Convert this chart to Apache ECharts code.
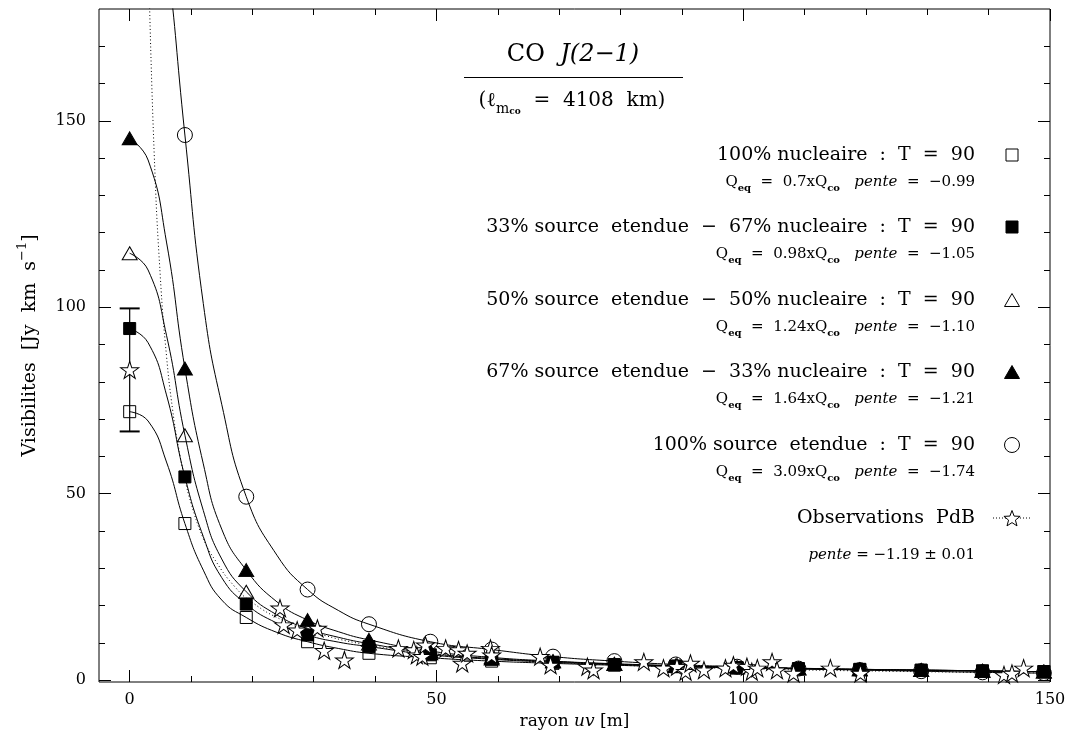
<!DOCTYPE html>
<html>
<head>
<meta charset="utf-8">
<script src="https://cdn.jsdelivr.net/npm/echarts@6/dist/echarts.min.js"></script>
<style>
  html, body { margin: 0; padding: 0; background: #fff; }
  #chart { width: 1074px; height: 735px; }
</style>
</head>
<body>
<div id="chart"></div>
<script>
// positions of the model points on the uv radius (m)
const modelX = [0, 9, 19, 29, 39, 49, 59, 69, 79, 89, 99, 109, 119, 129, 139, 149];
const sqOpen    = [72.0, 42.0, 16.8, 10.3, 7.2, 6.0, 5.1, 4.5, 4.0, 3.6, 3.3, 3.0, 2.8, 2.6, 2.4, 2.3];
const sqFilled  = [94.3, 54.5, 20.4, 12.1, 9.0, 6.8, 5.6, 4.8, 4.2, 3.8, 3.4, 3.1, 2.9, 2.7, 2.5, 2.3];
const triOpen   = [114.5, 65.7, 23.7, 13.8, 9.8, 7.2, 5.8, 5.0, 4.3, 3.8, 3.4, 3.1, 2.9, 2.7, 2.5, 2.3];
const triFilled = [145.3, 83.6, 29.5, 16.1, 10.8, 7.8, 6.1, 5.1, 4.4, 3.9, 3.5, 3.2, 2.9, 2.7, 2.5, 2.3];
const circOpen  = [240, 146.2, 49.2, 24.3, 15.0, 10.3, 8.2, 6.3, 5.1, 4.2, 3.6, 3.1, 2.7, 2.4, 2.1, 1.9];

// model curves
const curveX = [0, 3, 6, 9, 12, 15, 19, 24, 29, 34, 39, 49, 59, 69, 79, 89, 99, 109, 119, 129, 139, 149, 150];
const sqOpenCurve    = [72.0, 69.5, 58.5, 42.0, 29.5, 21.5, 16.8, 12.8, 10.3, 8.5, 7.2, 6.0, 5.1, 4.5, 4.0, 3.6, 3.3, 3.0, 2.8, 2.6, 2.4, 2.3, 2.3];
const sqFilledCurve  = [94.3, 90.5, 76.5, 54.5, 38.5, 27.5, 20.4, 15.3, 12.1, 10.2, 9.0, 6.8, 5.6, 4.8, 4.2, 3.8, 3.4, 3.1, 2.9, 2.7, 2.5, 2.3, 2.3];
const triOpenCurve   = [114.5, 110, 92.5, 65.7, 45.5, 32.5, 23.7, 17.5, 13.8, 11.5, 9.8, 7.2, 5.8, 5.0, 4.3, 3.8, 3.4, 3.1, 2.9, 2.7, 2.5, 2.3, 2.3];
const triFilledCurve = [145.3, 139.5, 117.5, 83.6, 58.0, 40.5, 29.5, 21.0, 16.1, 13.0, 10.8, 7.8, 6.1, 5.1, 4.4, 3.9, 3.5, 3.2, 2.9, 2.7, 2.5, 2.3, 2.3];
const circCurve      = [240, 228, 195, 146.2, 101, 74, 49.2, 33.5, 24.3, 18.7, 15.0, 10.3, 8.2, 6.3, 5.1, 4.2, 3.6, 3.1, 2.7, 2.4, 2.1, 1.9, 1.9];

// dotted power-law fit of the observations
const fitX = [3.2, 4, 5, 6, 7, 8, 9, 10, 12, 14, 17, 20, 25, 30, 40, 50, 60, 80, 100, 125, 150];
const fitY = [184, 141, 108, 87, 72.5, 62, 54, 47.5, 38, 32, 25.3, 20.8, 16, 12.8, 9.1, 7.0, 5.6, 4.0, 3.06, 2.35, 1.9];

// Plateau de Bure observations (stars)
const obsX = [0, 24.5, 25.1, 27.3, 30.6, 31.7, 35.0, 43.8, 46.3, 46.8, 47.7, 48.2, 51.5, 53.6, 54.2, 55.0, 58.8, 59.0,
  66.9, 68.6, 74.6, 75.6, 83.8, 87.0, 89.2, 90.6, 91.4, 93.6, 97.1, 98.4, 100.6, 101.4, 102.3, 104.7, 105.5, 108.2,
  114.2, 119.1, 142.5, 143.8, 145.7];
const obsY = [83.2, 19.3, 14.8, 13.4, 13.9, 7.9, 5.4, 8.5, 8.1, 6.7, 6.3, 9.4, 8.5, 8.1, 4.5, 7.2, 8.5, 6.7,
  6.3, 4.0, 3.6, 2.7, 4.9, 3.2, 3.6, 2.3, 4.5, 2.7, 3.2, 4.0, 3.6, 2.3, 3.2, 4.9, 2.7, 1.8,
  3.2, 1.8, 1.4, 1.8, 3.2];
const errX = [0];
const errLow = [66.7];
const errHigh = [99.7];

const xMajor = [0, 50, 100, 150];
const xMinor = [10, 20, 30, 40, 60, 70, 80, 90, 110, 120, 130, 140];
const yMajor = [0, 50, 100, 150];
const yMinor = [10, 20, 30, 40, 60, 70, 80, 90, 110, 120, 130, 140, 160, 170];

const legendMain = [
  '100% nucleaire  :  T  =  90',
  '33% source  etendue  −  67% nucleaire  :  T  =  90',
  '50% source  etendue  −  50% nucleaire  :  T  =  90',
  '67% source  etendue  −  33% nucleaire  :  T  =  90',
  '100% source  etendue  :  T  =  90',
  'Observations  PdB'
];
const legendSub = [
  'Q{s|eq}  =  0.7xQ{s|co}   {i|pente}  =  −0.99',
  'Q{s|eq}  =  0.98xQ{s|co}   {i|pente}  =  −1.05',
  'Q{s|eq}  =  1.24xQ{s|co}   {i|pente}  =  −1.10',
  'Q{s|eq}  =  1.64xQ{s|co}   {i|pente}  =  −1.21',
  'Q{s|eq}  =  3.09xQ{s|co}   {i|pente}  =  −1.74',
  '{i|pente} = −1.19 ± 0.01'
];

const FONT = 'DejaVu Serif';
const STAR = 'path://M50,2 L61,36 L97,36 L68,57 L79,92 L50,70 L21,92 L32,57 L3,36 L39,36 Z';

const chart = echarts.init(document.getElementById('chart'));

function pairs(xs, ys) { return xs.map((x, i) => [x, ys[i]]); }

function curve(vals) {
  return {
    type: 'line', data: pairs(curveX, vals), smooth: 0.5,
    symbol: 'none', clip: true, silent: true, z: 2,
    lineStyle: { color: '#000', width: 1 }
  };
}

function marks(vals, symbol, size, filled) {
  return {
    type: 'scatter', data: pairs(modelX, vals), symbol: symbol, symbolSize: size,
    clip: true, silent: true, z: 4,
    itemStyle: filled ? { color: '#000', borderColor: '#000', borderWidth: 1, opacity: 1 }
                      : { color: 'none', borderColor: '#000', borderWidth: 1, opacity: 1 }
  };
}

function xAx(pos, ticks, len, labels) {
  return {
    type: 'value', min: -5, max: 150, position: pos,
    axisLine: { show: false, onZero: false }, splitLine: { show: false },
    axisTick: { show: true, inside: true, length: len, customValues: ticks, lineStyle: { color: '#000', width: 1 } },
    axisLabel: labels ? { show: true, customValues: ticks, margin: 10, color: '#000', fontFamily: FONT, fontSize: 16 }
                      : { show: false }
  };
}
function yAx(pos, ticks, len, labels) {
  return {
    type: 'value', min: -0.5, max: 180, position: pos,
    axisLine: { show: false, onZero: false }, splitLine: { show: false },
    axisTick: { show: true, inside: true, length: len, customValues: ticks, lineStyle: { color: '#000', width: 1 } },
    axisLabel: labels ? { show: true, customValues: ticks, margin: 13, color: '#000', fontFamily: FONT, fontSize: 16 }
                      : { show: false }
  };
}

const xAxes = [xAx('bottom', xMajor, 12, true), xAx('top', xMajor, 12, false),
               xAx('bottom', xMinor, 6, false), xAx('top', xMinor, 6, false)];
xAxes[0].name = 'rayon {i|uv} [m]';
xAxes[0].nameLocation = 'middle';
xAxes[0].nameGap = 27;
xAxes[0].nameTextStyle = { color: '#000', fontFamily: FONT, fontSize: 17,
  rich: { i: { fontStyle: 'italic', fontFamily: FONT, fontSize: 17, color: '#000' } } };

const yAxes = [yAx('left', yMajor, 12, true), yAx('right', yMajor, 12, false),
               yAx('left', yMinor, 6, false), yAx('right', yMinor, 6, false)];
yAxes[0].name = 'Visibilites  [Jy  km  s{sup|−1}]';
yAxes[0].nameLocation = 'middle';
yAxes[0].nameGap = 54;
yAxes[0].nameTextStyle = { color: '#000', fontFamily: FONT, fontSize: 19, lineHeight: 28,
  rich: { sup: { fontFamily: FONT, fontSize: 13, lineHeight: 13, verticalAlign: 'top', color: '#000' } } };

// legend and title drawn as text blocks
const legendY = [155, 227, 300, 372, 445, 518];
const legendSubY = [180, 252, 325, 397, 470, 553];
const subRich = {
  s: { fontFamily: FONT, fontSize: 10, fontWeight: 'bold', lineHeight: 10, verticalAlign: 'bottom', fill: '#000' },
  i: { fontFamily: FONT, fontSize: 15, fontStyle: 'italic', lineHeight: 22, fill: '#000' }
};
const graphics = [];
legendMain.forEach((t, k) => {
  graphics.push({ type: 'text', z: 10, style: { text: t, x: 975, y: legendY[k], align: 'right', verticalAlign: 'middle',
    fontFamily: FONT, fontSize: 19, fill: '#000' } });
  graphics.push({ type: 'text', z: 10, style: { text: legendSub[k], x: 975, y: legendSubY[k] + 2, align: 'right', verticalAlign: 'middle',
    fontFamily: FONT, fontSize: 15, lineHeight: 22, fill: '#000', rich: subRich } });
});
const lx = 1012;
graphics.push({ type: 'rect', z: 10, shape: { x: lx - 6, y: legendY[0] - 6, width: 12, height: 12 }, style: { fill: 'none', stroke: '#000', lineWidth: 1 } });
graphics.push({ type: 'rect', z: 10, shape: { x: lx - 6, y: legendY[1] - 6, width: 12, height: 12 }, style: { fill: '#000', stroke: '#000', lineWidth: 1 } });
graphics.push({ type: 'polygon', z: 10, shape: { points: [[lx - 7.5, legendY[2] + 6.5], [lx + 7.5, legendY[2] + 6.5], [lx, legendY[2] - 6.5]] }, style: { fill: 'none', stroke: '#000', lineWidth: 1 } });
graphics.push({ type: 'polygon', z: 10, shape: { points: [[lx - 7.5, legendY[3] + 6.5], [lx + 7.5, legendY[3] + 6.5], [lx, legendY[3] - 6.5]] }, style: { fill: '#000', stroke: '#000', lineWidth: 1 } });
graphics.push({ type: 'circle', z: 10, shape: { cx: lx, cy: legendY[4], r: 7.5 }, style: { fill: 'none', stroke: '#000', lineWidth: 1 } });
graphics.push({ type: 'line', z: 10, shape: { x1: lx - 19, y1: legendY[5], x2: lx + 19, y2: legendY[5] }, style: { stroke: '#000', lineWidth: 1, lineDash: [1, 2] } });
const starPts = [];
for (let k = 0; k < 10; k++) {
  const a = -Math.PI / 2 + k * Math.PI / 5, r = k % 2 ? 3.6 : 8.5;
  starPts.push([lx + r * Math.cos(a), legendY[5] + 1 + r * Math.sin(a)]);
}
graphics.push({ type: 'polygon', z: 11, shape: { points: starPts }, style: { fill: '#fff', stroke: '#000', lineWidth: 1 } });

graphics.push({ type: 'text', z: 10, style: { text: 'CO  {i|J(2−1)}', x: 573, y: 55, align: 'center', verticalAlign: 'middle',
  fontFamily: FONT, fontSize: 24, fill: '#000', rich: { i: { fontFamily: FONT, fontSize: 24, fontStyle: 'italic', fill: '#000' } } } });
graphics.push({ type: 'line', z: 10, shape: { x1: 464, y1: 77.5, x2: 683, y2: 77.5 }, style: { stroke: '#000', lineWidth: 1 } });
graphics.push({ type: 'text', z: 10, style: { text: '(ℓ{a|m}{b|co}  =  4108  km)', x: 572, y: 101, align: 'center', verticalAlign: 'middle',
  fontFamily: FONT, fontSize: 20, lineHeight: 30, fill: '#000',
  rich: {
    a: { fontFamily: FONT, fontSize: 14, lineHeight: 15, verticalAlign: 'bottom', fill: '#000' },
    b: { fontFamily: FONT, fontSize: 9, fontWeight: 'bold', lineHeight: 6, verticalAlign: 'bottom', fill: '#000' }
  } } });

const option = {
  backgroundColor: '#fff',
  animation: false,
  grid: { left: 99, top: 9, width: 951, height: 673, show: true, borderColor: '#000', borderWidth: 1, backgroundColor: 'transparent' },
  xAxis: xAxes,
  yAxis: yAxes,
  graphic: graphics,
  series: [
    curve(sqOpenCurve), curve(sqFilledCurve), curve(triOpenCurve), curve(triFilledCurve), curve(circCurve),
    {
      type: 'line', data: pairs(fitX, fitY), smooth: 0.5, symbol: 'none', clip: true, silent: true, z: 2,
      lineStyle: { color: '#000', width: 1, type: [1, 2.5] }
    },
    {
      type: 'custom', clip: true, silent: true, z: 3,
      data: errX.map((x, i) => [x, errLow[i], errHigh[i]]),
      encode: { x: 0, y: [1, 2] },
      renderItem: function (params, api) {
        const lo = api.coord([api.value(0), api.value(1)]);
        const hi = api.coord([api.value(0), api.value(2)]);
        const cap = 10;
        return { type: 'group', children: [
          { type: 'line', shape: { x1: lo[0], y1: lo[1], x2: hi[0], y2: hi[1] }, style: { stroke: '#000', lineWidth: 1.2 } },
          { type: 'line', shape: { x1: lo[0] - cap, y1: lo[1], x2: lo[0] + cap, y2: lo[1] }, style: { stroke: '#000', lineWidth: 2 } },
          { type: 'line', shape: { x1: hi[0] - cap, y1: hi[1], x2: hi[0] + cap, y2: hi[1] }, style: { stroke: '#000', lineWidth: 2 } }
        ] };
      }
    },
    marks(sqOpen, 'rect', 12, false),
    marks(sqFilled, 'rect', 12, true),
    marks(triOpen, 'triangle', [15, 13], false),
    marks(triFilled, 'triangle', [15, 13], true),
    marks(circOpen, 'circle', 15, false),
    {
      type: 'scatter', data: pairs(obsX, obsY), symbol: STAR, symbolSize: [18, 17], clip: true, silent: true, z: 5,
      itemStyle: { color: '#fff', borderColor: '#000', borderWidth: 1, opacity: 1 }
    }
  ]
};
chart.setOption(option);
</script>
</body>
</html>
